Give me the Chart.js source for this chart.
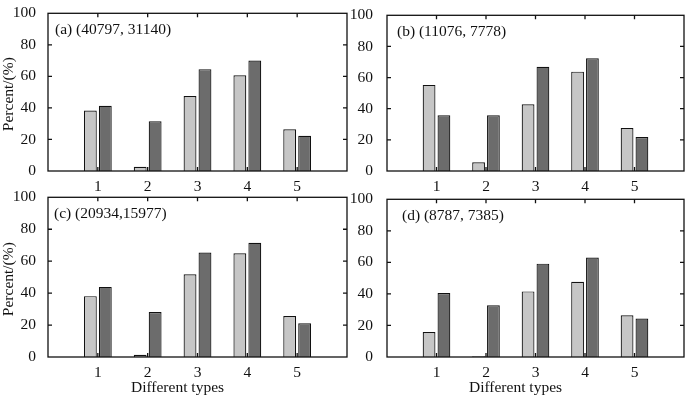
<!DOCTYPE html>
<html>
<head>
<meta charset="utf-8">
<script src="https://cdn.jsdelivr.net/npm/chart.js@4.4.0/dist/chart.umd.min.js"></script>
<style>
  html, body { margin: 0; padding: 0; background: #fff; }
  #wrap { position: relative; width: 686px; height: 398px; overflow: hidden; }
  canvas { position: absolute; }
</style>
</head>
<body>
<div id="wrap">
  <canvas id="pa" width="350" height="196" style="left:0;top:0"></canvas>
  <canvas id="pb" width="336" height="196" style="left:350px;top:0"></canvas>
  <canvas id="pc" width="350" height="214" style="left:0;top:184px"></canvas>
  <canvas id="pd" width="336" height="214" style="left:350px;top:184px"></canvas>
</div>
<script>
// categories on the x axis and y tick values
const categories = [1, 2, 3, 4, 5];
const yTicks = [0, 20, 40, 60, 80, 100];

// panel captions
const captionA = '(a) (40797, 31140)';
const captionB = '(b) (11076, 7778)';
const captionC = '(c) (20934,15977)';
const captionD = '(d) (8787, 7385)';

// light (first) and dark (second) bars, per panel
const lightA = [38.3, 2.7, 47.5, 60.7, 26.5];
const darkA  = [41.4, 31.5, 64.6, 70.0, 22.4];
const lightB = [55.3, 5.6, 42.8, 63.8, 27.6];
const darkB  = [35.8, 35.8, 66.9, 72.4, 21.8];
const lightC = [38.1, 1.4, 51.8, 65.0, 25.6];
const darkC  = [43.9, 28.1, 65.4, 71.5, 21.1];
const lightD = [15.8, 0.4, 41.6, 47.7, 26.4];
const darkD  = [40.6, 32.8, 59.2, 63.1, 24.4];

const FONT = '"Liberation Serif", "Times New Roman", serif';
const INK = '#111';

// box frame, inward ticks, caption and axis titles
const framePlugin = {
  id: 'frame',
  afterDatasetsDraw(chart, args, opts) {
    const { ctx, chartArea: a, scales: { x, y } } = chart;
    ctx.save();
    ctx.strokeStyle = INK;
    ctx.lineWidth = 1.3;
    ctx.strokeRect(a.left, a.top, a.right - a.left, a.bottom - a.top);
    ctx.beginPath();
    categories.forEach(c => {
      const px = x.getPixelForValue(c);
      ctx.moveTo(px, a.bottom); ctx.lineTo(px, a.bottom - 4);
      ctx.moveTo(px, a.top); ctx.lineTo(px, a.top + 4);
    });
    yTicks.slice(1, -1).forEach(v => {
      const py = y.getPixelForValue(v);
      ctx.moveTo(a.left, py); ctx.lineTo(a.left + 4, py);
      ctx.moveTo(a.right, py); ctx.lineTo(a.right - 4, py);
    });
    ctx.stroke();

    ctx.fillStyle = INK;
    ctx.font = '15.5px ' + FONT;
    ctx.textBaseline = 'middle';
    ctx.textAlign = 'left';
    ctx.fillText(opts.text, a.left + opts.dx, a.top + 17);

    if (opts.xTitle) {
      ctx.textAlign = 'center';
      ctx.fillText('Different types', (a.left + a.right) / 2 - 20, a.bottom + 31);
    }
    if (opts.yTitle) {
      ctx.translate(9, (a.top + a.bottom) / 2 + 2);
      ctx.rotate(-Math.PI / 2);
      ctx.textAlign = 'center';
      ctx.fillText('Percent/(%)', 0, 0);
    }
    ctx.restore();
  }
};

function makePanel(id, light, dark, caption, dx, yWidth, yPad, xHeight, right, xTitle, yTitle) {
  const toPoints = vals => categories.map((c, i) => ({ x: c, y: vals[i] }));
  new Chart(document.getElementById(id), {
    type: 'bar',
    data: {
      datasets: [{
        label: 'light',
        data: toPoints(light),
        backgroundColor: '#c6c6c6',
        borderColor: INK,
        borderWidth: 1.2
      }, {
        label: 'dark',
        data: toPoints(dark),
        backgroundColor: '#6c6c6c',
        borderColor: INK,
        borderWidth: 1.2
      }]
    },
    options: {
      responsive: false,
      animation: false,
      categoryPercentage: 0.6,
      barPercentage: 0.86,
      layout: { padding: { top: 9, right: right, left: 0, bottom: 0 } },
      scales: {
        x: {
          type: 'linear',
          min: 0,
          max: 6,
          offset: false,
          grid: { display: false, offset: false },
          border: { display: false },
          afterBuildTicks: s => { s.ticks = [0, ...categories, 6].map(v => ({ value: v })); },
          ticks: {
            padding: -1,
            color: INK,
            font: { family: FONT, size: 15.5 },
            callback: v => categories.includes(v) ? String(v) : ''
          },
          afterFit: s => { s.height = xHeight; }
        },
        y: {
          min: 0,
          max: 100,
          grid: { display: false },
          border: { display: false },
          afterBuildTicks: s => { s.ticks = yTicks.map(v => ({ value: v })); },
          ticks: {
            padding: yPad,
            color: INK,
            font: { family: FONT, size: 15.5 }
          },
          afterFit: s => { s.width = yWidth; }
        }
      },
      plugins: {
        legend: { display: false },
        tooltip: { enabled: false },
        frame: { text: caption, dx: dx, xTitle: xTitle, yTitle: yTitle }
      }
    },
    plugins: [framePlugin]
  });
}

makePanel('pa', lightA, darkA, captionA, 7, 48, 4, 25, 3, false, true);
makePanel('pb', lightB, darkB, captionB, 10, 37, 6, 25, 2, false, false);
makePanel('pc', lightC, darkC, captionC, 6, 48, 4, 41, 3, true, true);
makePanel('pd', lightD, darkD, captionD, 15, 37, 6, 41, 2, true, false);
</script>
</body>
</html>
